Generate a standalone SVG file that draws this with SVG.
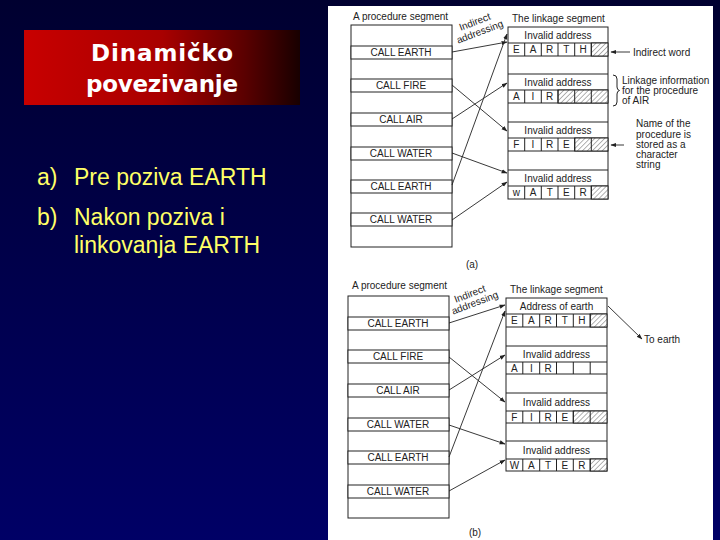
<svg xmlns="http://www.w3.org/2000/svg" width="720" height="540" viewBox="0 0 720 540">
<defs>
<linearGradient id="bg" x1="0" y1="0" x2="0" y2="1">
<stop offset="0" stop-color="#000030"/>
<stop offset="1" stop-color="#000066"/>
</linearGradient>
<linearGradient id="tg" x1="0" y1="0" x2="1" y2="0">
<stop offset="0" stop-color="#c80000"/>
<stop offset="0.5" stop-color="#a80000"/>
<stop offset="0.8" stop-color="#5a0000"/>
<stop offset="1" stop-color="#180000"/>
</linearGradient>
<pattern id="hatch" width="3.5" height="3.5" patternUnits="userSpaceOnUse" patternTransform="rotate(45)">
<rect width="3.5" height="3.5" fill="#fff"/>
<line x1="0" y1="0" x2="0" y2="3.5" stroke="#555" stroke-width="0.9"/>
</pattern>
<marker id="ah" viewBox="0 0 10 10" refX="9" refY="5" markerWidth="6" markerHeight="6" orient="auto-start-reverse" markerUnits="userSpaceOnUse">
<path d="M0,1.5 L10,5 L0,8.5 z" fill="#222"/>
</marker>
<style>
.box{fill:#fff;stroke:#222;stroke-width:1}
.ln{stroke:#222;stroke-width:1;fill:none}
.ar{stroke:#222;stroke-width:0.9;fill:none;marker-end:url(#ah)}
.ft{font-family:"Liberation Sans",Arial,sans-serif;font-size:10px;fill:#222}
.c{text-anchor:middle}
.h{fill:url(#hatch);stroke:#222;stroke-width:1}
.cell{fill:none;stroke:#222;stroke-width:1}
.bul{font-family:"Liberation Sans",Arial,sans-serif;font-size:23px;fill:#ffff66}
.ttl{font-family:"DejaVu Sans",sans-serif;font-weight:bold;font-size:23px;fill:#fff;text-anchor:middle}
</style>
</defs>
<rect width="720" height="540" fill="url(#bg)"/>
<g id="title">
<rect x="24" y="30" width="276" height="75" fill="url(#tg)"/>
<text class="ttl" x="162" y="61" textLength="142">Dinamičko</text>
<text class="ttl" x="162" y="92" textLength="152">povezivanje</text>
</g>
<g id="bullets">
<text class="bul" x="37" y="185">a)</text>
<text class="bul" x="74" y="185">Pre poziva EARTH</text>
<text class="bul" x="37" y="225">b)</text>
<text class="bul" x="74" y="225">Nakon poziva i</text>
<text class="bul" x="74" y="253">linkovanja EARTH</text>
</g>
<rect id="panel" x="328" y="6" width="385" height="534" fill="#fff"/>

<!-- ===== (a) ===== -->
<g id="a-proc">
<text class="ft" x="353" y="20">A procedure segment</text>
<rect class="box" x="351" y="25" width="101" height="222"/>
<rect class="box" x="351" y="46" width="101" height="13"/>
<rect class="box" x="351" y="79" width="101" height="13"/>
<rect class="box" x="351" y="113" width="101" height="13"/>
<rect class="box" x="351" y="147" width="101" height="13"/>
<rect class="box" x="351" y="180" width="101" height="13"/>
<rect class="box" x="351" y="213" width="101" height="13"/>
<text class="ft c" x="401" y="56">CALL EARTH</text>
<text class="ft c" x="401" y="89">CALL FIRE</text>
<text class="ft c" x="401" y="123">CALL AIR</text>
<text class="ft c" x="401" y="157">CALL WATER</text>
<text class="ft c" x="401" y="190">CALL EARTH</text>
<text class="ft c" x="401" y="223">CALL WATER</text>
</g>
<g id="a-link">
<text class="ft" x="512" y="22">The linkage segment</text>
<rect class="box" x="508" y="27" width="100" height="172"/>
<line class="ln" x1="508" y1="43" x2="608" y2="43"/>
<line class="ln" x1="508" y1="56" x2="608" y2="56"/>
<line class="ln" x1="508" y1="74" x2="608" y2="74"/>
<line class="ln" x1="508" y1="90" x2="608" y2="90"/>
<line class="ln" x1="508" y1="103" x2="608" y2="103"/>
<line class="ln" x1="508" y1="122" x2="608" y2="122"/>
<line class="ln" x1="508" y1="138" x2="608" y2="138"/>
<line class="ln" x1="508" y1="151" x2="608" y2="151"/>
<line class="ln" x1="508" y1="170" x2="608" y2="170"/>
<line class="ln" x1="508" y1="186" x2="608" y2="186"/>
<text class="ft c" x="558" y="39">Invalid address</text>
<text class="ft c" x="558" y="86">Invalid address</text>
<text class="ft c" x="558" y="134">Invalid address</text>
<text class="ft c" x="558" y="182">Invalid address</text>
<!-- EARTH -->
<rect class="h" x="591.3" y="43" width="16.7" height="13"/>
<path class="ln" d="M524.7,43V56M541.3,43V56M558,43V56M574.7,43V56M591.3,43V56"/>
<text class="ft c" x="516.3" y="53">E</text><text class="ft c" x="533" y="53">A</text><text class="ft c" x="549.7" y="53">R</text><text class="ft c" x="566.3" y="53">T</text><text class="ft c" x="583" y="53">H</text>
<!-- AIR -->
<rect class="h" x="558" y="90" width="50" height="13"/>
<path class="ln" d="M524.7,90V103M541.3,90V103M558,90V103M574.7,90V103M591.3,90V103"/>
<text class="ft c" x="516.3" y="100">A</text><text class="ft c" x="533" y="100">I</text><text class="ft c" x="549.7" y="100">R</text>
<!-- FIRE -->
<rect class="h" x="574.7" y="138" width="33.3" height="13"/>
<path class="ln" d="M524.7,138V151M541.3,138V151M558,138V151M574.7,138V151M591.3,138V151"/>
<text class="ft c" x="516.3" y="148">F</text><text class="ft c" x="533" y="148">I</text><text class="ft c" x="549.7" y="148">R</text><text class="ft c" x="566.3" y="148">E</text>
<!-- WATER -->
<rect class="h" x="591.3" y="186" width="16.7" height="13"/>
<path class="ln" d="M524.7,186V199M541.3,186V199M558,186V199M574.7,186V199M591.3,186V199"/>
<text class="ft c" x="516.3" y="196">w</text><text class="ft c" x="533" y="196">A</text><text class="ft c" x="549.7" y="196">T</text><text class="ft c" x="566.3" y="196">E</text><text class="ft c" x="583" y="196">R</text>
</g>
<g id="a-notes">
<text class="ft" x="633" y="55.5">Indirect word</text>
<path class="ln" d="M613,75 q4,0 4,4 v8 q0,3 2.5,3.5 q-2.5,0.5 -2.5,3.5 v8 q0,4 -4,4"/>
<text class="ft" x="622" y="84">Linkage information</text>
<text class="ft" x="622" y="94">for the procedure</text>
<text class="ft" x="622" y="104">of AIR</text>
<text class="ft" x="636" y="127">Name of the</text>
<text class="ft" x="636" y="138">procedure is</text>
<text class="ft" x="636" y="148">stored as a</text>
<text class="ft" x="636" y="158">character</text>
<text class="ft" x="636" y="168">string</text>
<text class="ft c" x="472" y="268">(a)</text>
</g>
<g id="a-connectors">
<path class="ar" d="M452,52 L507,42"/>
<path class="ar" d="M452,85 L507,131"/>
<path class="ar" d="M452,119 L507,83"/>
<path class="ar" d="M452,153 L507,173"/>
<path class="ar" d="M452,185 L507,34"/>
<path class="ar" d="M452,220 L507,182"/>
<path class="ar" d="M630,52 L611,52"/>
<path class="ar" d="M624,145 L611,145"/>
<text class="ft" transform="translate(476,25) rotate(-21)" text-anchor="middle">Indirect</text>
<text class="ft" transform="translate(481,35) rotate(-21)" text-anchor="middle">addressing</text>
</g>

<!-- ===== (b) ===== -->
<g id="b-proc">
<text class="ft" x="352" y="289">A procedure segment</text>
<rect class="box" x="348" y="296" width="101" height="222"/>
<rect class="box" x="348" y="317" width="101" height="13"/>
<rect class="box" x="348" y="350" width="101" height="13"/>
<rect class="box" x="348" y="384" width="101" height="13"/>
<rect class="box" x="348" y="418" width="101" height="13"/>
<rect class="box" x="348" y="451" width="101" height="13"/>
<rect class="box" x="348" y="485" width="101" height="13"/>
<text class="ft c" x="398" y="327">CALL EARTH</text>
<text class="ft c" x="398" y="360">CALL FIRE</text>
<text class="ft c" x="398" y="394">CALL AIR</text>
<text class="ft c" x="398" y="428">CALL WATER</text>
<text class="ft c" x="398" y="461">CALL EARTH</text>
<text class="ft c" x="398" y="495">CALL WATER</text>
</g>
<g id="b-link">
<text class="ft" x="510" y="293">The linkage segment</text>
<rect class="box" x="506" y="298" width="101" height="173"/>
<line class="ln" x1="506" y1="314" x2="607" y2="314"/>
<line class="ln" x1="506" y1="327" x2="607" y2="327"/>
<line class="ln" x1="506" y1="346" x2="607" y2="346"/>
<line class="ln" x1="506" y1="362" x2="607" y2="362"/>
<line class="ln" x1="506" y1="374" x2="607" y2="374"/>
<line class="ln" x1="506" y1="393" x2="607" y2="393"/>
<line class="ln" x1="506" y1="411" x2="607" y2="411"/>
<line class="ln" x1="506" y1="423" x2="607" y2="423"/>
<line class="ln" x1="506" y1="441" x2="607" y2="441"/>
<line class="ln" x1="506" y1="459" x2="607" y2="459"/>
<text class="ft c" x="556.5" y="310">Address of earth</text>
<text class="ft c" x="556.5" y="358">Invalid address</text>
<text class="ft c" x="556.5" y="406">Invalid address</text>
<text class="ft c" x="556.5" y="454">Invalid address</text>
<!-- EARTH -->
<rect class="h" x="590.2" y="314" width="16.8" height="13"/>
<path class="ln" d="M522.8,314V327M539.7,314V327M556.5,314V327M573.3,314V327M590.2,314V327"/>
<text class="ft c" x="514.4" y="324">E</text><text class="ft c" x="531.3" y="324">A</text><text class="ft c" x="548.1" y="324">R</text><text class="ft c" x="564.9" y="324">T</text><text class="ft c" x="581.8" y="324">H</text>
<!-- AIR -->
<path class="ln" d="M522.8,362V374M539.7,362V374M556.5,362V374M573.3,362V374M590.2,362V374"/>
<text class="ft c" x="514.4" y="372">A</text><text class="ft c" x="531.3" y="372">I</text><text class="ft c" x="548.1" y="372">R</text>
<!-- FIRE -->
<rect class="h" x="573.3" y="411" width="33.7" height="12"/>
<path class="ln" d="M522.8,411V423M539.7,411V423M556.5,411V423M573.3,411V423M590.2,411V423"/>
<text class="ft c" x="514.4" y="421">F</text><text class="ft c" x="531.3" y="421">I</text><text class="ft c" x="548.1" y="421">R</text><text class="ft c" x="564.9" y="421">E</text>
<!-- WATER -->
<rect class="h" x="590.2" y="459" width="16.8" height="12"/>
<path class="ln" d="M522.8,459V471M539.7,459V471M556.5,459V471M573.3,459V471M590.2,459V471"/>
<text class="ft c" x="514.4" y="469">W</text><text class="ft c" x="531.3" y="469">A</text><text class="ft c" x="548.1" y="469">T</text><text class="ft c" x="564.9" y="469">E</text><text class="ft c" x="581.8" y="469">R</text>
</g>
<g id="b-notes">
<text class="ft" x="644" y="343">To earth</text>
<text class="ft c" x="475" y="536">(b)</text>
</g>
<g id="b-connectors">
<path class="ar" d="M449,323 L505,305"/>
<path class="ar" d="M449,457 L505,311"/>
<path class="ar" d="M449,357 L505,402"/>
<path class="ar" d="M449,390 L505,355"/>
<path class="ar" d="M449,425 L505,444"/>
<path class="ar" d="M449,491 L505,460"/>
<path class="ar" d="M608,306 L642,339"/>
<text class="ft" transform="translate(471,297) rotate(-21)" text-anchor="middle">Indirect</text>
<text class="ft" transform="translate(476,306) rotate(-21)" text-anchor="middle">addressing</text>
</g>
</svg>
